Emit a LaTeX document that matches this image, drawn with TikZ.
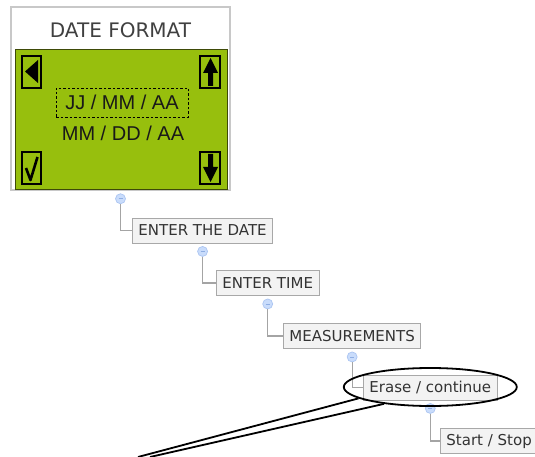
\documentclass[tikz,border=0pt]{standalone}
\usepackage{fontspec}
\setmainfont{DejaVu Sans}
\newfontfamily\lcdfont{Liberation Sans}
\usetikzlibrary{shapes.geometric,calc}
\definecolor{lcd}{HTML}{97BF0D}
\definecolor{lcdedge}{HTML}{3E4A08}
\definecolor{frame}{HTML}{C8C8C8}
\definecolor{boxfill}{HTML}{F3F3F3}
\definecolor{boxedge}{HTML}{A8A8A8}
\definecolor{knobfill}{HTML}{C9DCFB}
\definecolor{knobedge}{HTML}{ABC5F2}
\definecolor{knobdash}{HTML}{8FAEE3}
\definecolor{tiec}{HTML}{A4A4A4}
\tikzset{
  item/.style={draw=boxedge, fill=boxfill, text=black!80, font=\fontsize{15}{18}\selectfont,
    minimum height=25pt, inner xsep=6pt, inner ysep=0pt, anchor=west, line width=0.9pt},
  knob/.style={circle, draw=knobedge, fill=knobfill, inner sep=0pt, minimum size=10pt, line width=0.7pt,
    path picture={\draw[knobdash, line width=0.8pt] ([xshift=-2pt]path picture bounding box.center)
      -- ([xshift=2pt]path picture bounding box.center);}},
  tie/.style={draw=tiec, line width=1.2pt},
  btn/.style={draw=black, line width=1.4pt},
  glyph/.style={fill=black},
  lcdtxt/.style={font=\lcdfont\fontsize{20}{24}\selectfont, text=black!90},
  callout/.style={draw=black, line width=1.8pt},
}

\begin{document}
\begin{tikzpicture}[x=1pt, y=-1pt]
  \useasboundingbox (0,0) rectangle (535,457);
  % screen
  \node[draw=frame, line width=1.5pt, fill=white, minimum width=219pt, minimum height=183pt, inner sep=0pt] (screen) at (120.5,98.5) {};
  \node[font=\fontsize{20}{24}\selectfont, text=black!75] (title) at (120.5,30) {DATE FORMAT};
  \node[fill=lcd, draw=lcdedge, line width=1pt, minimum width=212pt, minimum height=140pt, inner sep=0pt] (panel) at (121,120) {};
  \draw[btn] (22,56) rectangle (41,88);
  \draw[btn] (200,56) rectangle (220,88);
  \draw[btn] (22,152) rectangle (41,184);
  \draw[btn] (200,152) rectangle (220,184);
  \fill[glyph] (25,71.5) -- (38,60) -- (38,83) -- cycle;
  \fill[glyph] (210.5,58) -- (203,73) -- (208,73) -- (208,86) -- (213,86) -- (213,73) -- (218,73) -- cycle;
  \fill[glyph] (208,154) -- (213,154) -- (213,167) -- (218,167) -- (210.5,182) -- (203,167) -- (208,167) -- cycle;
  \draw[black, line width=2.6pt, line join=round] (26,168) -- (30.5,180) -- (37.5,157);
  \node[lcdtxt, draw, dash pattern=on 2.5pt off 2pt, line width=0.8pt, minimum width=132pt, minimum height=29pt, inner sep=0pt] (fmt1) at (122,102.5) {JJ / MM / AA};
  \node[lcdtxt] (fmt2) at (123,133) {MM / DD / AA};
  % menu tree
  \node[item] (date) at (132,230.5) {ENTER THE DATE};
  \node[item] (time) at (216,283) {ENTER TIME};
  \node[item] (meas) at (283,336) {MEASUREMENTS};
  \node[item] (erase) at (363,387.5) {Erase / continue};
  \node[item] (stop) at (440,441) {Start / Stop};
  \node[knob] (k1) at ([yshift=-8pt]screen.south) {};
  \node[knob] (k2) at ([yshift=-8pt]date.south) {};
  \node[knob] (k3) at ([yshift=-8pt]time.south) {};
  \node[knob] (k4) at ([yshift=-8pt]meas.south) {};
  \node[knob] (k5) at ([yshift=-8pt]erase.south) {};
  \draw[tie] (k1) |- (date.west);
  \draw[tie] (k2) |- (time.west);
  \draw[tie] (k3) |- (meas.west);
  \draw[tie] (k4) |- (erase.west);
  \draw[tie] (k5) |- (stop.west);
  % highlight
  \node[ellipse, callout, minimum width=173pt, minimum height=38pt, inner sep=0pt] (hl) at ([yshift=0.5pt]erase.center) {};
  \coordinate (tail1) at (138,457);
  \coordinate (tail2) at (150,457);
  \draw[callout] (hl.189) -- (tail1);
  \draw[callout] (hl.200) -- (tail2);
\end{tikzpicture}
\end{document}
